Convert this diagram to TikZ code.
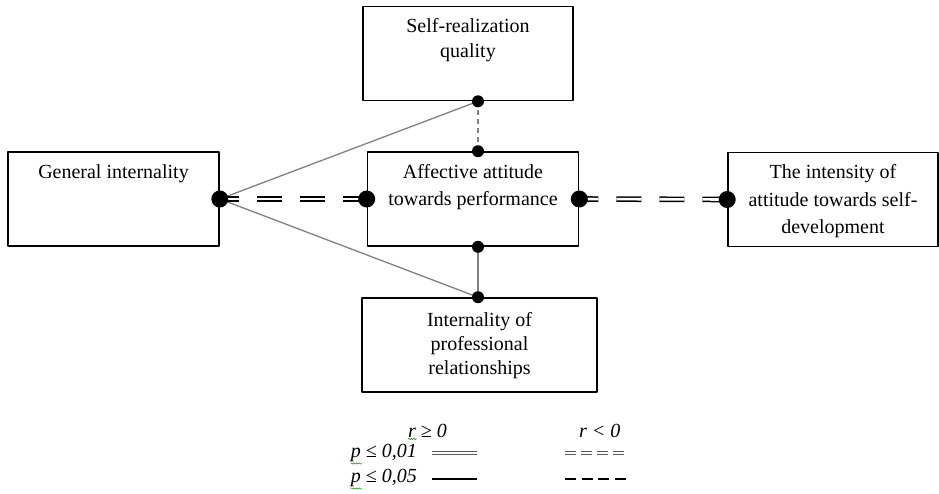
\documentclass[tikz,border=0pt]{standalone}
\usepackage{fontspec}
\setmainfont{Liberation Serif}
\usetikzlibrary{decorations.pathmorphing}

\begin{document}
\begin{tikzpicture}[x=1pt,y=-1pt,line join=round,
		font=\fontsize{20}{25}\selectfont,
		box/.style={draw,line width=1.6pt,inner sep=0pt,minimum height=94pt,minimum width=#1},
		boxtext/.style={anchor=north,align=center,inner sep=0pt,yshift=-13pt},
		wide/.style={font=\fontsize{20}{27.5}\selectfont},
		link/.style={draw=gray,line width=1.3pt},
		dbl/.style={double,line width=1.5pt,double distance=2.6pt,dash pattern=on 25pt off 18pt,dash phase=6pt},
		key/.style={double,draw=gray!70!black,line width=0.9pt,double distance=1.5pt},
		wave/.style={draw=green!55!black,line width=0.5pt,decorate,decoration={snake,amplitude=0.7pt,segment length=2.6pt}}]
	\useasboundingbox (0,0) rectangle (939,493);
	% boxes
	\node[box=211pt] (gen) at (113.5,199) {};
	\node[box=211pt] (aff) at (473,199) {};
	\node[box=210pt] (int) at (833,199.5) {};
	\node[box=210pt] (self) at (468,53.5) {};
	\node[box=235pt] (rel) at (479.5,345) {};
	\node[boxtext] at (gen.north) {General internality};
	\node[boxtext,wide] at (aff.north) {Affective attitude\\towards performance};
	\node[boxtext,wide] at (int.north) {The intensity of\\attitude towards self-\\development};
	\node[boxtext] at (self.north) {Self-realization\\quality};
	\node[boxtext,yshift=-2pt,font=\fontsize{20}{24}\selectfont] at (rel.north) {Internality of\\professional\\relationships};
	% points
	\path
	(478,0) coordinate (ax)
	(gen.east) coordinate (g)
	(aff.west) coordinate (a1)
	(aff.east) coordinate (a2)
	(int.west) coordinate (i)
	(self.south -| ax) coordinate (s)
	(aff.north -| ax) coordinate (t)
	(aff.south -| ax) coordinate (b)
	(rel.north -| ax) coordinate (r)
	;
	\draw[link] (g)--(s);
	\draw[link] (g)--(r);
	\draw[link] (b)--(r);
	\draw[link,dash pattern=on 5pt off 4pt] (s)--(t);
	\draw[dbl] (g)--(a1);
	\draw[dbl] (a2)--(i);
	\foreach \l in {g,a1,a2,i}
	\fill[black] (\l) circle (8.5pt);
	\foreach \l in {s,t,b,r}
	\fill[black] (\l) circle (6pt);
	% legend
	\node[anchor=west,inner sep=0pt] (rpos) at (408,431) {\itshape r ≥ 0};
	\node[anchor=west,inner sep=0pt] (rneg) at (579,431) {\itshape r < 0};
	\node[anchor=east,inner sep=0pt] (p1) at (417,453) {\itshape p ≤ 0,01};
	\node[anchor=east,inner sep=0pt] (p2) at (417,478) {\itshape p ≤ 0,05};
	\draw[key] (p1.east) ++(15,0) -- ++(45,0);
	\draw[key,dash pattern=on 11pt off 5pt] (p1.east -| rneg.west) ++(-14,0) -- ++(61,0);
	\draw[line width=1.3pt] (p2.east) ++(15,1) -- ++(45,0);
	\draw[line width=1.3pt,dash pattern=on 11pt off 5.5pt] (p2.east -| rneg.west) ++(-14,1) -- ++(61,0);
	\draw[wave] (rpos.south west) ++(0,1) -- ++(9,0);
	\draw[wave] (p1.south west) ++(0,1.5) -- ++(11,0);
	\draw[wave] (p2.south west) ++(0,1.5) -- ++(11,0);
\end{tikzpicture}
\end{document}
